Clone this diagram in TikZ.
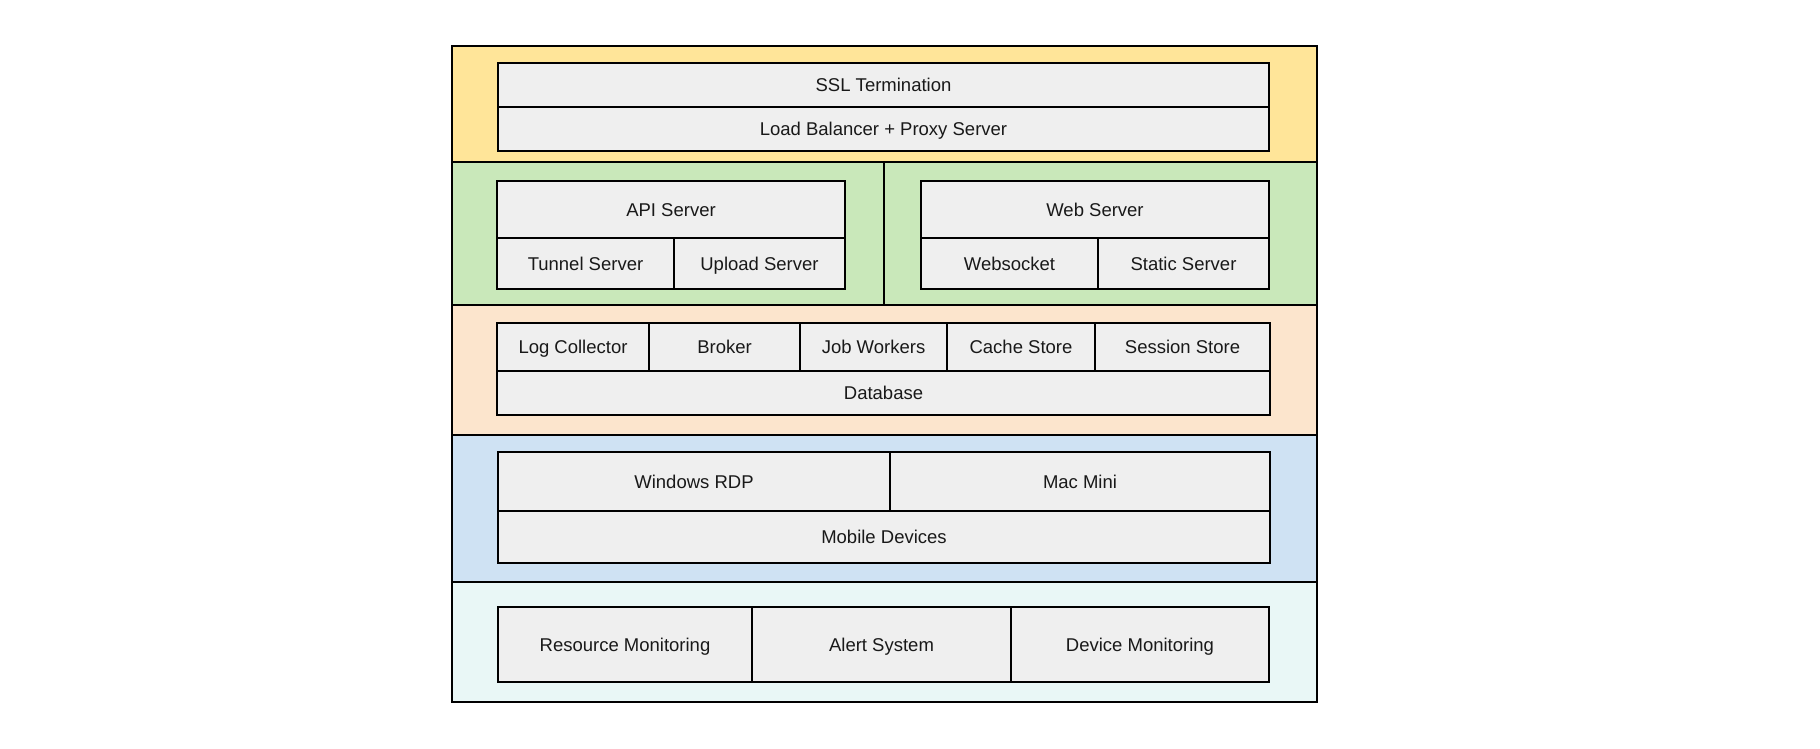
\documentclass[tikz,border=0pt]{standalone}
\usepackage{fontspec}
\setmainfont{Liberation Sans}
\definecolor{cyellow}{HTML}{FFE599}
\definecolor{cgreen}{HTML}{C9E8BA}
\definecolor{corange}{HTML}{FCE5CD}
\definecolor{cblue}{HTML}{CFE2F3}
\definecolor{ccyan}{HTML}{E9F7F6}
\definecolor{cbox}{HTML}{EFEFEF}
\newcommand\bx[7]{\node[#1, minimum width={#4-#2}, minimum height={#5-#3}] (#6) at ({(#2+#4)/2},{(#3+#5)/2}) {#7};}
\begin{document}
\begin{tikzpicture}[x=1pt,y=-1pt,
  band/.style={draw=black, line width=1.8pt, inner sep=0pt, outer sep=0pt},
  box/.style={draw=black, line width=1.8pt, fill=cbox, inner sep=0pt, outer sep=0pt,
    font=\fontsize{18.5}{22}\selectfont, text=black!90, text height=15pt, text depth=2pt}]
\useasboundingbox (0,0) rectangle (1820,748);
% bands
\bx{band,fill=cyellow}{452}{46}{1317}{162}{yband}{}
\bx{band,fill=cgreen}{452}{162}{884}{305}{gbandl}{}
\bx{band,fill=cgreen}{884}{162}{1317}{305}{gbandr}{}
\bx{band,fill=corange}{452}{305}{1317}{435}{oband}{}
\bx{band,fill=cblue}{452}{435}{1317}{582}{bband}{}
\bx{band,fill=ccyan}{452}{582}{1317}{702}{cband}{}
% yellow
\bx{box}{498}{63}{1269}{107}{ssl}{SSL Termination}
\bx{box}{498}{107}{1269}{151}{lb}{Load Balancer + Proxy Server}
% green
\bx{box}{497}{181}{845}{238}{api}{API Server}
\bx{box}{497}{238}{674}{289}{tunnel}{Tunnel Server}
\bx{box}{674}{238}{845}{289}{upload}{Upload Server}
\bx{box}{921}{181}{1269}{238}{web}{Web Server}
\bx{box}{921}{238}{1098}{289}{wsock}{Websocket}
\bx{box}{1098}{238}{1269}{289}{static}{Static Server}
% orange
\bx{box}{497}{323}{649}{371}{log}{Log Collector}
\bx{box}{649}{323}{800}{371}{broker}{Broker}
\bx{box}{800}{323}{947}{371}{jobs}{Job Workers}
\bx{box}{947}{323}{1095}{371}{cache}{Cache Store}
\bx{box}{1095}{323}{1270}{371}{session}{Session Store}
\bx{box}{497}{371}{1270}{415}{db}{Database}
% blue
\bx{box}{498}{452}{890}{511}{win}{Windows RDP}
\bx{box}{890}{452}{1270}{511}{mac}{Mac Mini}
\bx{box}{498}{511}{1270}{563}{mobile}{Mobile Devices}
% cyan
\bx{box}{498}{607}{752}{682}{resmon}{Resource Monitoring}
\bx{box}{752}{607}{1011}{682}{alert}{Alert System}
\bx{box}{1011}{607}{1269}{682}{devmon}{Device Monitoring}
\end{tikzpicture}
\end{document}
